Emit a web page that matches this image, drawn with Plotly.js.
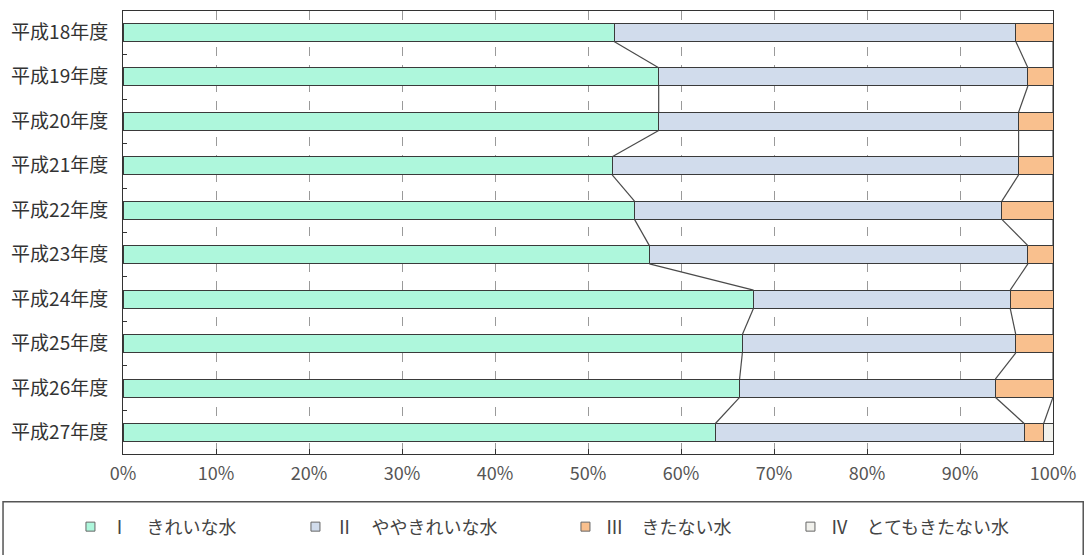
<!DOCTYPE html>
<html>
<head>
<meta charset="utf-8">
<script src="https://cdn.plot.ly/plotly-3.0.1.min.js"></script>
<style>html,body{margin:0;padding:0;background:#fff;}#chart{width:1087px;height:555px;}</style>
</head>
<body>
<div id="chart"></div>
<script>
// Data (percent)
var years = ['平成18年度','平成19年度','平成20年度','平成21年度','平成22年度','平成23年度','平成24年度','平成25年度','平成26年度','平成27年度'];
var seriesNames = ['Ⅰ　きれいな水','Ⅱ　ややきれいな水','Ⅲ　きたない水','Ⅳ　とてもきたない水'];
var cat1 = [52.8, 57.6, 57.6, 52.6, 55.0, 56.6, 67.8, 66.6, 66.3, 63.7];
var cat2 = [43.2, 39.7, 38.7, 43.7, 39.5, 40.7, 27.6, 29.4, 27.5, 33.2];
var cat3 = [4.0, 2.7, 3.7, 3.7, 5.5, 2.7, 4.6, 4.0, 6.2, 2.1];
var cat4 = [0, 0, 0, 0, 0, 0, 0, 0, 0, 1.0];
var xTicks = [0,10,20,30,40,50,60,70,80,90,100];

var colors = ['#aef7dc', '#d1dcec', '#f9c08e', '#f1f1ec'];
var series = [cat1, cat2, cat3, cat4];
var barW = 0.41;
var idx = years.map(function(_, i){ return i; });

var traces = [];
series.forEach(function(vals, k){
  traces.push({
    type: 'bar', orientation: 'h', y: idx, x: vals, width: barW,
    marker: {color: colors[k], line: {color: '#3a3a3a', width: 1}},
    showlegend: false, hoverinfo: 'skip'
  });
});

// series lines connecting segment boundaries
var cum = idx.map(function(){ return 0; });
for (var k = 0; k < 3; k++) {
  cum = cum.map(function(c, i){ return c + series[k][i]; });
  var lx = [], ly = [];
  for (var i = 0; i < years.length - 1; i++) {
    lx.push(cum[i], cum[i+1], null);
    ly.push(i + barW/2, i + 1 - barW/2, null);
  }
  traces.push({
    type: 'scatter', mode: 'lines', x: lx, y: ly,
    line: {color: '#4a4a4a', width: 1.2}, showlegend: false, hoverinfo: 'skip'
  });
}

// legend entries (trailing spaces only widen the legend spacing)
var pads = ['　　　', '　　　\u2002', '　　　', ''];
series.forEach(function(vals, k){
  traces.push({
    type: 'scatter', mode: 'markers', x: [null], y: [null],
    name: seriesNames[k] + pads[k],
    marker: {symbol: 'square', size: 9, color: colors[k], line: {color: '#666', width: 1}},
    showlegend: true
  });
});

var layout = {
  width: 1087, height: 555,
  margin: {l: 123, r: 34, t: 11, b: 100},
  paper_bgcolor: '#fff', plot_bgcolor: '#fff',
  barmode: 'stack',
  font: {family: '"Noto Sans CJK JP", sans-serif', color: '#333'},
  xaxis: {
    range: [0, 100], tickmode: 'array', tickvals: xTicks,
    ticktext: xTicks.map(function(v){ return v + '%'; }),
    ticks: 'inside', ticklen: 5, tickcolor: '#333',
    showgrid: true, gridcolor: '#9a9a9a', griddash: 'dash', gridwidth: 1,
    showline: true, linecolor: '#333', linewidth: 1, mirror: true,
    zeroline: false, fixedrange: true,
    ticklabelstandoff: 3,
    tickfont: {size: 18, color: '#555'}
  },
  yaxis: {
    range: [9.48, -0.48], tickmode: 'array', tickvals: idx, ticktext: years,
    ticks: '', showgrid: false, zeroline: false,
    showline: true, linecolor: '#333', linewidth: 1, mirror: true,
    ticklabelstandoff: 10,
    minor: {tickmode: 'array', tickvals: idx.slice(0, -1).map(function(i){ return i + 0.5; }),
            ticks: 'inside', ticklen: 4, tickcolor: '#333', showgrid: false},
    tickfont: {size: 19, color: '#333'}
  },
  showlegend: true,
  legend: {
    orientation: 'h', traceorder: 'normal',
    x: -0.0565, xanchor: 'left', y: -0.162, yanchor: 'middle',
    bgcolor: 'rgba(0,0,0,0)', borderwidth: 0,
    font: {size: 18, color: '#444'}
  },
  shapes: [{
    type: 'rect', xref: 'paper', yref: 'paper',
    x0: -0.129, x1: 1.0325, y0: -0.108, y1: -0.32,
    line: {color: '#555', width: 1.5}, fillcolor: 'rgba(0,0,0,0)', layer: 'below'
  }]
};

Plotly.newPlot('chart', traces, layout, {staticPlot: true, displayModeBar: false});
</script>
</body>
</html>
